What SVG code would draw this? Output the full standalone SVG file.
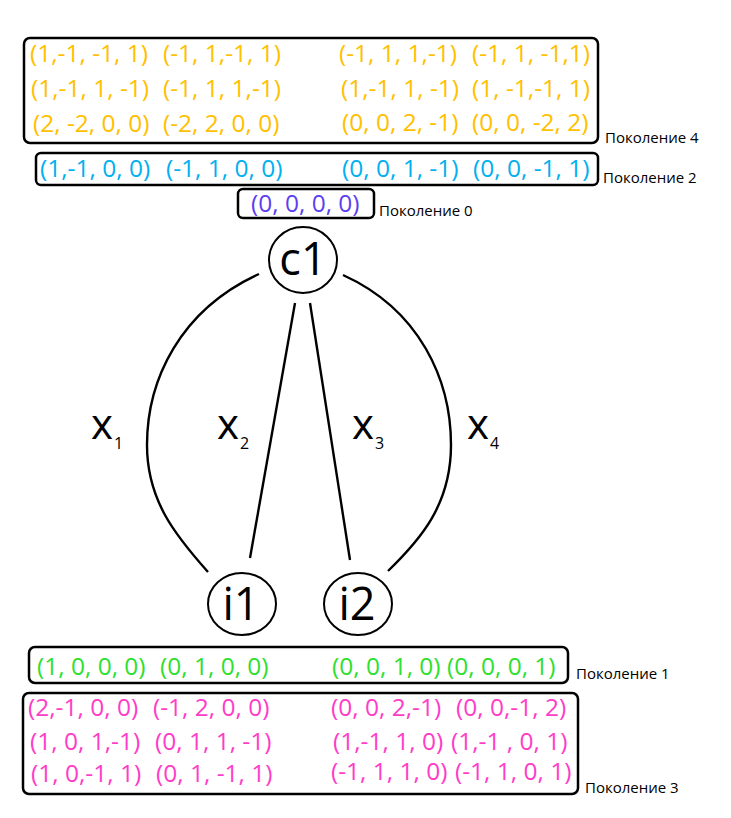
<svg xmlns="http://www.w3.org/2000/svg" width="731" height="818" viewBox="0 0 731 818">
  <style>
    text { font-family: "Open Sans", "Liberation Sans", sans-serif; }
    .box { fill: none; stroke: #000; stroke-width: 2.5; }
    .vec { font-size: 24.5px; }
    .g4 { fill: #FFC000; }
    .g2 { fill: #00B0F0; }
    .g0 { fill: #5B3FF0; }
    .g1 { fill: #2EE02E; }
    .g3 { fill: #FF3CC8; }
    .gen { font-size: 15px; fill: #000; }
    .node { fill: #fff; stroke: #000; stroke-width: 2; }
    .nlabel { font-size: 45px; fill: #000; text-anchor: middle; }
    .edge { fill: none; stroke: #000; stroke-width: 2.4; }
    .xl { font-size: 42px; fill: #000; }
    .xs { font-size: 16px; fill: #000; }
  </style>

  <!-- generation 4 -->
  <g id="gen4">
    <rect class="box" x="24" y="38" width="574" height="105" rx="6"/>
    <g class="vec g4">
      <text x="30" y="62">(1,-1, -1, 1)</text>
      <text x="163" y="62">(-1, 1,-1, 1)</text>
      <text x="339" y="62">(-1, 1, 1,-1)</text>
      <text x="472" y="62">(-1, 1, -1,1)</text>
      <text x="31" y="97">(1,-1, 1, -1)</text>
      <text x="163" y="97">(-1, 1, 1,-1)</text>
      <text x="341" y="97">(1,-1, 1, -1)</text>
      <text x="472" y="97">(1, -1,-1, 1)</text>
      <text x="33" y="132">(2, -2, 0, 0)</text>
      <text x="163" y="132">(-2, 2, 0, 0)</text>
      <text x="342" y="131">(0, 0, 2, -1)</text>
      <text x="472" y="131">(0, 0, -2, 2)</text>
    </g>
    <text class="gen" x="605" y="143">Поколение 4</text>
  </g>

  <!-- generation 2 -->
  <g id="gen2">
    <rect class="box" x="36" y="153" width="562" height="32" rx="5"/>
    <g class="vec g2">
      <text x="40" y="177">(1,-1, 0, 0)</text>
      <text x="166" y="177">(-1, 1, 0, 0)</text>
      <text x="342" y="177">(0, 0, 1, -1)</text>
      <text x="473" y="177">(0, 0, -1, 1)</text>
    </g>
    <text class="gen" x="603" y="183">Поколение 2</text>
  </g>

  <!-- generation 0 -->
  <g id="gen0">
    <rect class="box" x="238" y="189" width="136" height="29" rx="5"/>
    <text class="vec g0" x="251" y="212">(0, 0, 0, 0)</text>
    <text class="gen" x="379" y="216">Поколение 0</text>
  </g>

  <!-- connectors -->
  <g id="edges">
    <path class="edge" d="M259,274 C180,310 147,380 147,445 C147,500 175,535 208,572"/>
    <line class="edge" x1="295" y1="303" x2="250" y2="558"/>
    <line class="edge" x1="310" y1="303" x2="350" y2="560"/>
    <path class="edge" d="M343,275 C420,310 451,380 451,445 C451,505 420,540 388,571"/>
  </g>

  <!-- edge labels -->
  <g id="labels">
    <text x="91" y="439"><tspan class="xl">x</tspan><tspan class="xs" dx="1" dy="10">1</tspan></text>
    <text x="217" y="439"><tspan class="xl">x</tspan><tspan class="xs" dx="1" dy="10">2</tspan></text>
    <text x="352" y="439"><tspan class="xl">x</tspan><tspan class="xs" dx="1" dy="10">3</tspan></text>
    <text x="467" y="439"><tspan class="xl">x</tspan><tspan class="xs" dx="1" dy="10">4</tspan></text>
  </g>

  <!-- nodes -->
  <g id="c1">
    <ellipse class="node" cx="303" cy="260" rx="34" ry="33"/>
    <text class="nlabel" x="303" y="275">c1</text>
  </g>
  <g id="i1">
    <ellipse class="node" cx="242" cy="604" rx="34" ry="31"/>
    <text class="nlabel" x="241" y="620">i1</text>
  </g>
  <g id="i2">
    <ellipse class="node" cx="358" cy="604" rx="34" ry="31"/>
    <text class="nlabel" x="357" y="620">i2</text>
  </g>

  <!-- generation 1 -->
  <g id="gen1">
    <rect class="box" x="29" y="647" width="539" height="36" rx="6"/>
    <g class="vec g1">
      <text x="37" y="675">(1, 0, 0, 0)</text>
      <text x="160" y="675">(0, 1, 0, 0)</text>
      <text x="332" y="675">(0, 0, 1, 0)</text>
      <text x="447" y="675">(0, 0, 0, 1)</text>
    </g>
    <text class="gen" x="576" y="679">Поколение 1</text>
  </g>

  <!-- generation 3 -->
  <g id="gen3">
    <rect class="box" x="23" y="693" width="555" height="101" rx="6"/>
    <g class="vec g3">
      <text x="28" y="716">(2,-1, 0, 0)</text>
      <text x="153" y="716">(-1, 2, 0, 0)</text>
      <text x="331" y="716">(0, 0, 2,-1)</text>
      <text x="456" y="716">(0, 0,-1, 2)</text>
      <text x="30" y="750">(1, 0, 1,-1)</text>
      <text x="155" y="750">(0, 1, 1, -1)</text>
      <text x="333" y="750">(1,-1, 1, 0)</text>
      <text x="451" y="750">(1,-1 , 0, 1)</text>
      <text x="31" y="782">(1, 0,-1, 1)</text>
      <text x="156" y="782">(0, 1, -1, 1)</text>
      <text x="331" y="780">(-1, 1, 1, 0)</text>
      <text x="455" y="780">(-1, 1, 0, 1)</text>
    </g>
    <text class="gen" x="585" y="793">Поколение 3</text>
  </g>
</svg>
